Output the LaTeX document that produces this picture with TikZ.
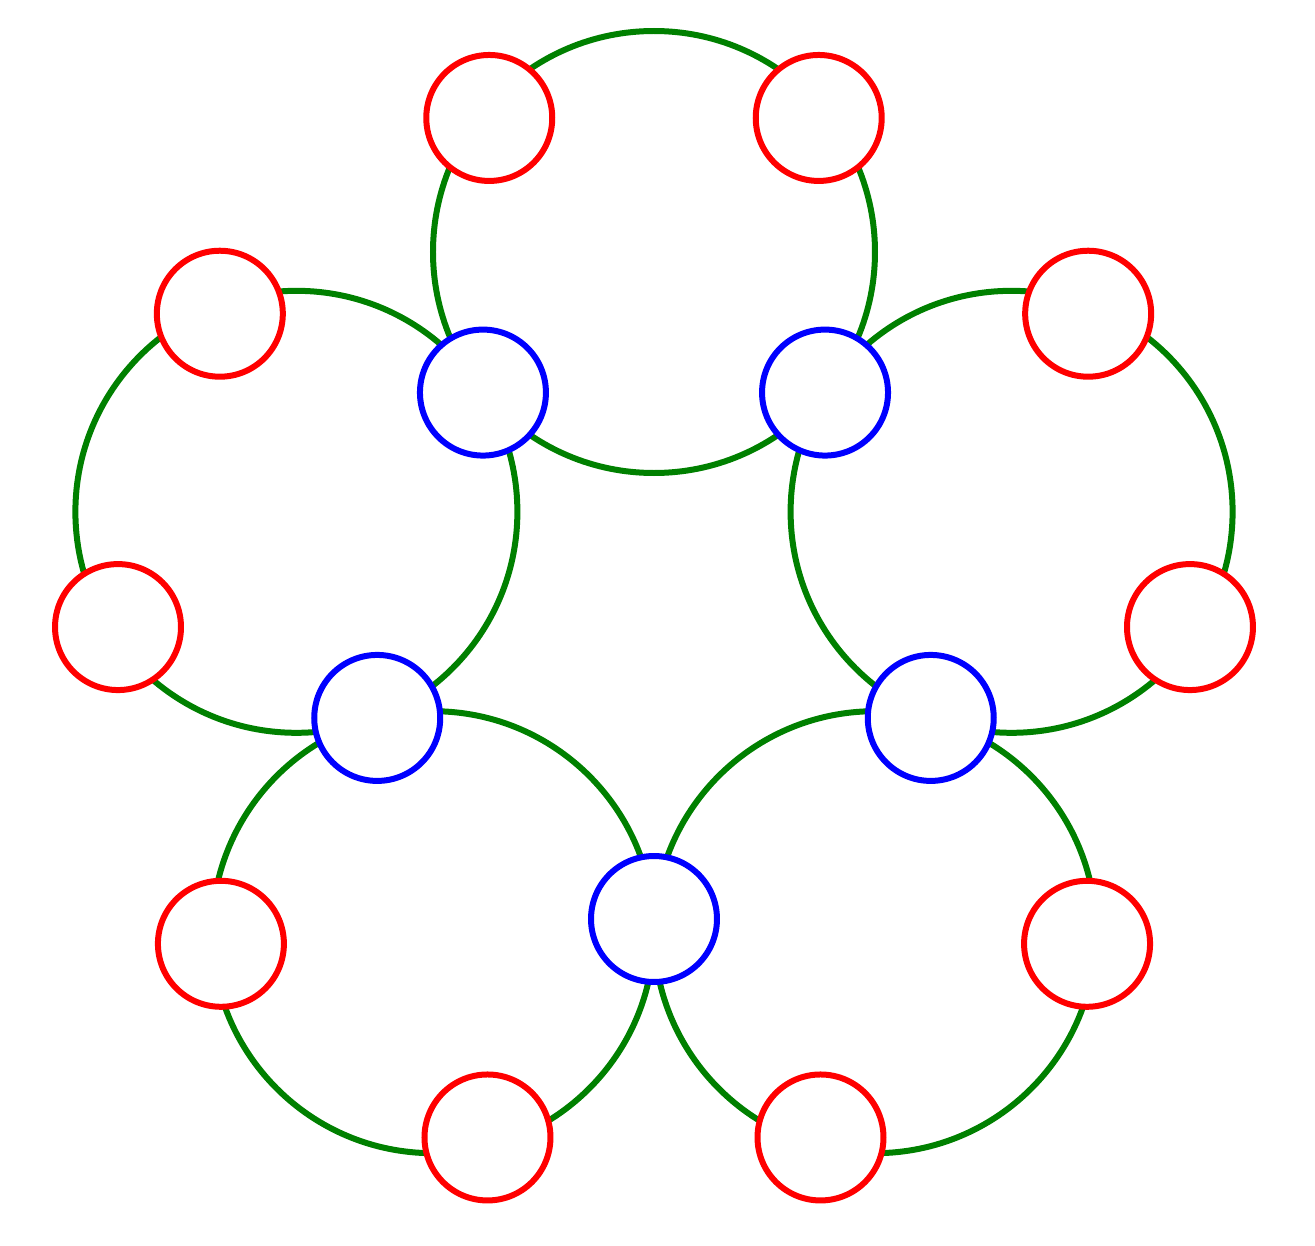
\documentclass[tikz,border=0pt]{standalone}
\definecolor{ggreen}{RGB}{0,128,0}
\tikzset{
  redn/.style={circle,draw=red,fill=white,line width=0.12cm,minimum size=2.52cm,inner sep=0pt},
  bluen/.style={circle,draw=blue,fill=white,line width=0.12cm,minimum size=2.52cm,inner sep=0pt},
  ring/.style={draw=ggreen,line width=0.12cm}
}
\begin{document}
\begin{tikzpicture}[x=0.02cm,y=0.02cm]
\useasboundingbox (-654,628) rectangle (661,-617);
\foreach \k in {0,...,4}{
  \coordinate (g\k) at ({90+72*\k}:376);
  \draw[ring] (g\k) circle (221);
}
\foreach \k in {0,...,4}{
  \node[bluen] (b\k) at ({126+72*\k}:291) {};
  \node[redn] (ra\k) at ({107.9+72*\k}:536) {};
  \node[redn] (rb\k) at ({72.1+72*\k}:536) {};
}
\end{tikzpicture}
\end{document}
